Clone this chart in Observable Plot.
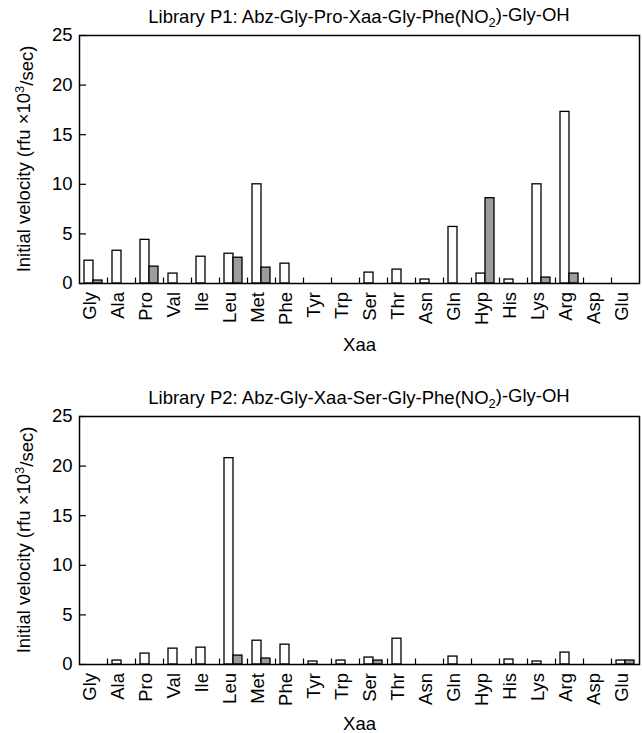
<!DOCTYPE html>
<html>
<head>
<meta charset="utf-8">
<script src="https://cdn.jsdelivr.net/npm/d3@7"></script>
<script src="https://cdn.jsdelivr.net/npm/@observablehq/plot@0.6"></script>
<style>
  html, body { margin: 0; padding: 0; background: white; }
  #chart svg { display: block; overflow: visible; }
</style>
</head>
<body>
<div id="chart"></div>
<script>
const categories = ["Gly","Ala","Pro","Val","Ile","Leu","Met","Phe","Tyr","Trp","Ser","Thr","Asn","Gln","Hyp","His","Lys","Arg","Asp","Glu"];
const p1White = [2.3,3.3,4.4,1.0,2.7,3.0,10.0,2.0,0,0,1.1,1.4,0.4,5.7,1.0,0.4,10.0,17.3,0,0];
const p1Gray  = [0.3,0,1.7,0,0,2.6,1.6,0,0,0,0,0,0,0,8.6,0,0.6,1.0,0,0];
const p2White = [0,0.4,1.1,1.6,1.7,20.8,2.4,2.0,0.3,0.4,0.7,2.6,0,0.8,0,0.5,0.3,1.2,0,0.4];
const p2Gray  = [0,0,0,0,0,0.9,0.6,0,0,0,0.4,0,0,0,0,0,0,0,0,0.4];
const yTicks = [0,5,10,15,20,25];
const yLabel = ["Initial velocity (rfu \u00d710", "3", "/sec)"];
const xLabel = "Xaa";
const title1 = ["Library P1: Abz-Gly-Pro-Xaa-Gly-Phe(NO", "2", ")-Gly-OH"];
const title2 = ["Library P2: Abz-Gly-Xaa-Ser-Gly-Phe(NO", "2", ")-Gly-OH"];

const FONT = "'Liberation Sans', Arial, Helvetica, sans-serif";
const FS = 18.5;

function rows(vals) {
  return categories.map((c, i) => ({cat: c, v: vals[i]})).filter(d => d.v > 0);
}

function makeChart(white, gray, title, height, marginBottom, xLabelOffset) {
  const ml = 79, mr = 3, mt = 35;
  const W = 642;
  const svg = Plot.plot({
    width: W,
    height,
    marginLeft: ml,
    marginRight: mr,
    marginTop: mt,
    marginBottom,
    style: {fontSize: FS + "px", fontFamily: FONT, color: "black", background: "white", overflow: "visible"},
    x: {type: "band", domain: categories, padding: 0, axis: null},
    y: {domain: [0, 25], axis: null},
    marks: [
      Plot.barY(rows(white), {x: "cat", y: "v", fill: "white", stroke: "black", strokeWidth: 1.3, insetLeft: 5, insetRight: 14}),
      Plot.barY(rows(gray), {x: "cat", y: "v", fill: "#9c9c9c", stroke: "black", strokeWidth: 1.3, insetLeft: 14, insetRight: 5}),
      Plot.ruleX(categories.slice(1), {x: d => d, dx: -14, y1: 0, y2: 0.55, stroke: "black", strokeWidth: 1.2}),
      Plot.axisY(yTicks, {anchor: "left", tickSize: -7, tickPadding: 14, strokeWidth: 1.2, label: null}),
      Plot.text([xLabel], {frameAnchor: "bottom", lineAnchor: "bottom", dy: xLabelOffset, fill: "black"}),
      Plot.frame({stroke: "black", strokeWidth: 1.5})
    ]
  });
  const s = d3.select(svg);
  // rotated category tick labels, placed with Plot's own x scale
  const xs = svg.scale("x");
  const bw = xs.bandwidth != null ? xs.bandwidth : (W - ml - mr) / categories.length;
  const yBottom = height - marginBottom;
  categories.forEach(c => {
    const cx = xs.apply(c) + bw / 2 + 3;
    const tx = s.append("text")
      .attr("transform", `translate(${cx},${yBottom + 9}) rotate(-90)`)
      .attr("text-anchor", "end")
      .attr("font-size", FS + "px")
      .attr("font-family", FONT)
      .attr("fill", "black");
    tx.append("tspan").text(c);
  });

  const addRich = (sel, parts, sub) => {
    sel.append("tspan").text(parts[0]);
    sel.append("tspan").attr("font-size", (FS * 0.7) + "px").attr("dy", sub ? "0.3em" : "-0.45em").text(parts[1]);
    sel.append("tspan").attr("dy", sub ? "-0.3em" : "0.45em").text(parts[2]);
  };
  const t = s.append("text")
    .attr("x", ml + (W - ml - mr) / 2)
    .attr("y", mt - 12)
    .attr("text-anchor", "middle")
    .attr("font-size", FS + "px")
    .attr("font-family", FONT)
    .attr("fill", "black");
  addRich(t, title, true);
  const yl = s.append("text")
    .attr("transform", `translate(30,${mt + (height - mt - marginBottom) / 2}) rotate(-90)`)
    .attr("text-anchor", "middle")
    .attr("font-size", FS + "px")
    .attr("font-family", FONT)
    .attr("fill", "black");
  addRich(yl, yLabel, false);
  return svg;
}

const root = document.getElementById("chart");
root.appendChild(makeChart(p1White, p1Gray, title1, 381, 98, 67));
root.appendChild(makeChart(p2White, p2Gray, title2, 352, 69, 65));
</script>
</body>
</html>
